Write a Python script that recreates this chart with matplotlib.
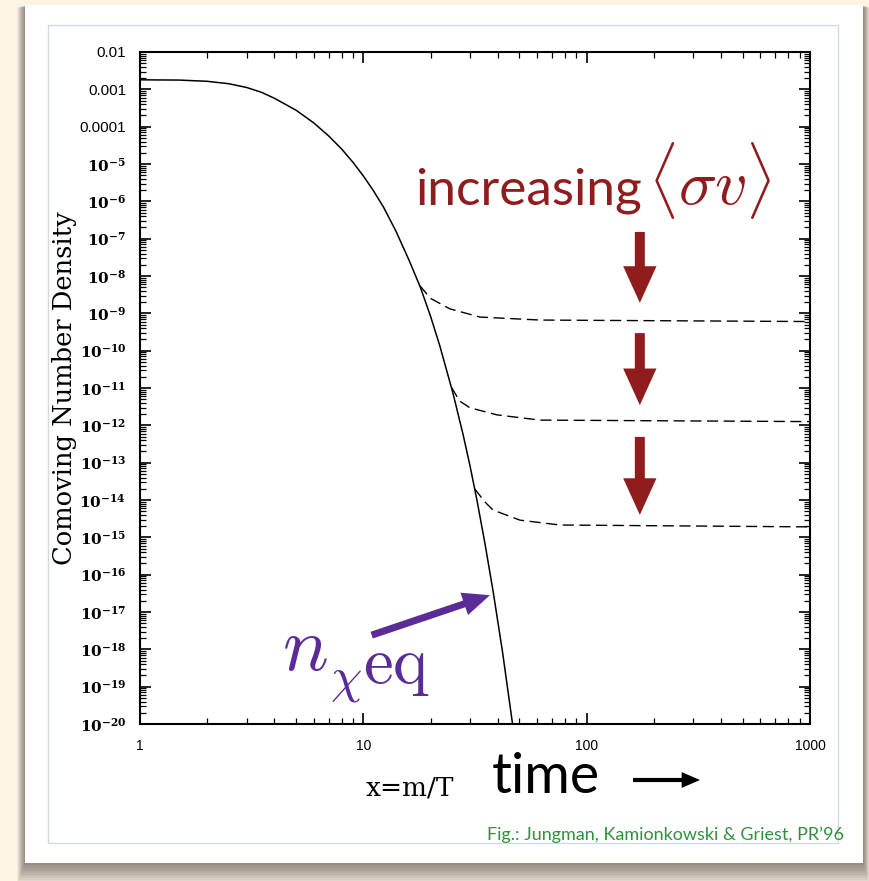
import matplotlib
matplotlib.use('Agg')
import matplotlib.pyplot as plt
from matplotlib.patches import Rectangle, FancyArrowPatch
from matplotlib.ticker import FixedLocator, FuncFormatter, LogLocator, NullFormatter
import numpy as np

W, H = 869, 881
plt.rcParams['font.family'] = ['Liberation Sans', 'DejaVu Sans']
plt.rcParams['mathtext.fontset'] = 'dejavuserif'

# ---------------- data ----------------
# equilibrium comoving number density (solid curve), log10 values
x_eq = [1.0, 1.5, 2.0, 2.5, 3.0, 3.5, 4.0, 5.0, 6.0, 7.0, 8.0, 9.0, 10.0, 11.0,
        12.3, 14.0, 16.0, 18.0, 20.0, 22.0, 25.2, 28.0, 30.0, 32.3, 35.0, 38.1,
        42.0, 46.8]
log_n_eq = [-2.745, -2.752, -2.785, -2.850, -2.950, -3.080, -3.240, -3.560, -3.900,
            -4.250, -4.600, -4.960, -5.320, -5.680, -6.150, -6.800, -7.570, -8.300,
            -9.080, -9.870, -11.140, -12.260, -13.070, -14.020, -15.150, -16.440,
            -18.070, -20.090]

# freeze-out curves (dashed), increasing <sigma v>, log10 values
x_fo1 = [17.9, 20.0, 24.4, 33.3, 61.8, 1000.0]
log_fo1 = [-8.26, -8.60, -8.88, -9.10, -9.18, -9.22]
x_fo2 = [24.8, 27.0, 30.0, 39.7, 61.8, 1000.0]
log_fo2 = [-10.98, -11.35, -11.53, -11.72, -11.86, -11.90]
x_fo3 = [31.5, 35.0, 38.1, 50.3, 76.0, 1000.0]
log_fo3 = [-13.70, -14.05, -14.27, -14.54, -14.67, -14.72]

y_ticks = [10.0 ** -k for k in range(2, 21)]
x_ticks = [1, 10, 100, 1000]
x_tick_labels = ['1', '10', '100', '1000']

RED = '#8f1d1d'
PURPLE = '#5b2c98'
GREEN = '#2e923c'

# ---------------- figure & background card ----------------
fig = plt.figure(figsize=(W / 100, H / 100), dpi=100, facecolor='#fdf4e6')
bg = fig.add_axes([0, 0, 1, 1], zorder=-5)
bg.set_xlim(0, W)
bg.set_ylim(H, 0)
bg.axis('off')
for k in range(1, 14):
    bg.add_patch(Rectangle((25 - 0.6 * k, 5 + 0.2 * k), 838 + 1.1 * k, 858 + 1.45 * k,
                           facecolor='#3b2f25', alpha=0.05, lw=0))
bg.add_patch(Rectangle((25, 5), 838, 858, facecolor='white', lw=0))
bg.add_patch(Rectangle((48, 25), 790, 818, facecolor='white', edgecolor='#d3dae3', lw=1))

# ---------------- main axes ----------------
ax = fig.add_axes([140 / W, 1 - 724 / H, 670 / W, 672 / H])
ax.set_facecolor('none')
ax.set_xscale('log')
ax.set_yscale('log')

ax.plot(x_eq, 10.0 ** np.array(log_n_eq), color='black', lw=1.1)
for xs, ys in [(x_fo1, log_fo1), (x_fo2, log_fo2), (x_fo3, log_fo3)]:
    ax.plot(xs, 10.0 ** np.array(ys), color='black', lw=1.0, ls=(0, (8, 4)))

ax.set_xlim(1, 1000)
ax.set_ylim(1e-20, 1e-2)


def yfmt(v, pos):
    e = int(round(np.log10(v)))
    if e >= -4:
        return {-2: '0.01', -3: '0.001', -4: '0.0001'}[e]
    return r'$\mathbf{10^{%d}}$' % e


ax.yaxis.set_major_locator(FixedLocator(y_ticks))
ax.yaxis.set_major_formatter(FuncFormatter(yfmt))
ax.yaxis.set_minor_locator(LogLocator(base=10, subs=np.arange(2, 10), numticks=200))
ax.yaxis.set_minor_formatter(NullFormatter())
ax.xaxis.set_major_locator(FixedLocator(x_ticks))
ax.set_xticklabels(x_tick_labels)
ax.xaxis.set_minor_locator(LogLocator(base=10, subs=np.arange(2, 10), numticks=50))
ax.xaxis.set_minor_formatter(NullFormatter())

ax.tick_params(which='both', direction='in', top=True, right=True, colors='black')
ax.tick_params(which='major', length=8, width=1.2)
ax.tick_params(which='minor', length=4.5, width=0.9)
ax.tick_params(axis='y', pad=10, labelsize=11)
ax.tick_params(axis='x', pad=11, labelsize=10)
for s in ax.spines.values():
    s.set_linewidth(1.5)

ax.set_ylabel('Comoving Number Density', fontfamily='DejaVu Serif', fontsize=18.5)
ax.yaxis.set_label_coords(-0.094, 0.5)
ax.set_xlabel('x=m/T', fontfamily='DejaVu Serif', fontsize=19)
ax.xaxis.set_label_coords(0.403, -0.077)

# ---------------- annotations ----------------
arrow_x = 173
red_tops = [10 ** -6.82, 10 ** -9.53, 10 ** -12.31]
red_tips = [10 ** -8.72, 10 ** -11.46, 10 ** -14.40]
for a, b in zip(red_tops, red_tips):
    ax.add_patch(FancyArrowPatch((arrow_x, a), (arrow_x, b), transform=ax.transData,
                                 arrowstyle='simple,head_length=1.1,head_width=1.0,tail_width=0.3',
                                 mutation_scale=24, color=RED, shrinkA=0, shrinkB=0, lw=0))

ax.add_patch(FancyArrowPatch((10.9, 10 ** -17.62), (36.9, 10 ** -16.55), transform=ax.transData,
                             arrowstyle='simple,head_length=1.15,head_width=1.0,tail_width=0.3',
                             mutation_scale=17, color=PURPLE, shrinkA=0, shrinkB=0, lw=0))

bg.text(415, 205, 'increasing', fontfamily='Lato', fontsize=37,
        color=RED, va='baseline', ha='left')
bg.text(648, 205, r'$\langle\sigma v\rangle$', fontsize=46,
        color=RED, va='baseline', ha='left', math_fontfamily='cm')
bg.text(282, 670, r'$n$', fontsize=55, color=PURPLE, va='baseline', ha='left',
        math_fontfamily='cm')
bg.text(330, 692, r'$\chi$', fontsize=36, color=PURPLE, va='baseline', ha='left',
        math_fontfamily='cm')
bg.text(363, 683, r'$\mathrm{eq}$', fontsize=48, color=PURPLE, va='baseline', ha='left',
        math_fontfamily='cm')

bg.text(492, 793, 'time', fontfamily='Lato', fontsize=40, color='black', va='baseline', ha='left')
bg.add_patch(FancyArrowPatch((633, 780), (700, 780), transform=bg.transData,
                             arrowstyle='simple,head_length=1.1,head_width=0.95,tail_width=0.25',
                             mutation_scale=12, color='black', shrinkA=0, shrinkB=0, lw=0))

bg.text(487, 840, 'Fig.: Jungman, Kamionkowski & Griest, PR\u201996', fontfamily='Lato',
        fontsize=13, color=GREEN, va='baseline', ha='left')

fig.savefig('out.png', dpi=100, facecolor=fig.get_facecolor())
